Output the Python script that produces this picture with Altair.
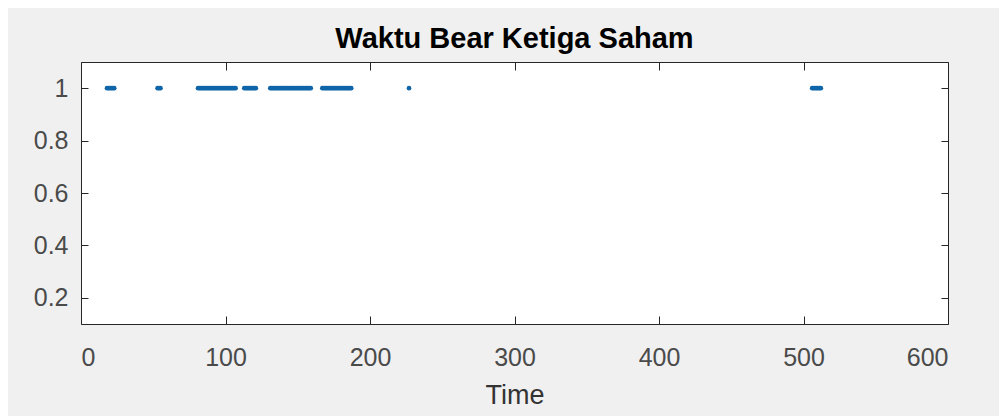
import altair as alt
import pandas as pd

# Time steps where the "bear" state of the three stocks equals 1
bear_times = [
    18, 19, 20, 21, 22, 23,
    53, 54, 55,
    81, 82, 83, 84, 85, 86, 87, 88, 89, 90, 91, 92, 93, 94, 95, 96, 97, 98, 99,
    100, 101, 102, 103, 104, 105, 106, 107,
    113, 114, 115, 116, 117, 118, 119, 120, 121,
    131, 132, 133, 134, 135, 136, 137, 138, 139, 140, 141, 142, 143, 144, 145,
    146, 147, 148, 149, 150, 151, 152, 153, 154, 155, 156, 157, 158, 159,
    167, 168, 169, 170, 171, 172, 173, 174, 175, 176, 177, 178, 179, 180, 181,
    182, 183, 184, 185, 186, 187,
    227,
    506, 507, 508, 509, 510, 511, 512,
]
bear_value = 1

x_ticks = [0, 100, 200, 300, 400, 500, 600]
y_ticks = [0.2, 0.4, 0.6, 0.8, 1.0]
x_domain = [0, 600]
y_domain = [0.1, 1.1]

df = pd.DataFrame({"Time": bear_times, "Bear": [bear_value for _ in bear_times]})

BLUE = "#0f65a8"
AX = "#262626"
LAB = "#4a4a4a"
FONT = "Liberation Sans"

xs = alt.Scale(domain=x_domain, nice=False, zero=False)
ys = alt.Scale(domain=y_domain, nice=False, zero=False)

base = alt.Chart(df)

points = base.mark_circle(size=22, color=BLUE, opacity=1).encode(
    x=alt.X(
        "Time:Q", scale=xs, title="Time",
        axis=alt.Axis(
            orient="bottom", values=x_ticks, format="d", ticks=False, tickSize=0,
            domain=False, grid=False, labelPadding=21, labelFontSize=25,
            labelFont=FONT, labelColor=LAB, titleFont=FONT, titleFontSize=27,
            titleFontWeight="normal", titleColor="#333333", titlePadding=12,
        ),
    ),
    y=alt.Y(
        "Bear:Q", scale=ys, title=None,
        axis=alt.Axis(
            orient="left", values=y_ticks, format=".1~f", ticks=False, tickSize=0,
            domain=False, grid=False, labelPadding=13, labelFontSize=25,
            labelFont=FONT, labelColor=LAB,
        ),
    ),
)


def tick_layer(xo, yo):
    return base.mark_circle(opacity=0).encode(
        x=alt.X(
            "Time:Q", scale=xs, title=None,
            axis=alt.Axis(
                orient=xo, values=x_ticks, labels=False, domain=False, grid=False,
                ticks=True, tickSize=8, offset=-8, tickColor=AX, tickWidth=1, zindex=1,
            ),
        ),
        y=alt.Y(
            "Bear:Q", scale=ys, title=None,
            axis=alt.Axis(
                orient=yo, values=y_ticks, labels=False, domain=False, grid=False,
                ticks=True, tickSize=7, offset=-7, tickColor=AX, tickWidth=1, zindex=1,
            ),
        ),
    )


chart = (
    alt.layer(points, tick_layer("bottom", "left"), tick_layer("top", "right"))
    .resolve_axis(x="independent", y="independent")
    .properties(
        width=867,
        height=262,
        autosize=alt.AutoSizeParams(type="none"),
        padding={"left": 73, "top": 54, "right": 51, "bottom": 92},
        background="#f0f0f0",
        title=alt.TitleParams(
            "Waktu Bear Ketiga Saham", font=FONT, fontSize=29, fontWeight="bold",
            color="#000000", offset=8, anchor="middle",
        ),
    )
    .configure_view(stroke=AX, strokeWidth=1, fill="white")
)

chart.save("out.html", embed_options={"renderer": "svg", "actions": False})
